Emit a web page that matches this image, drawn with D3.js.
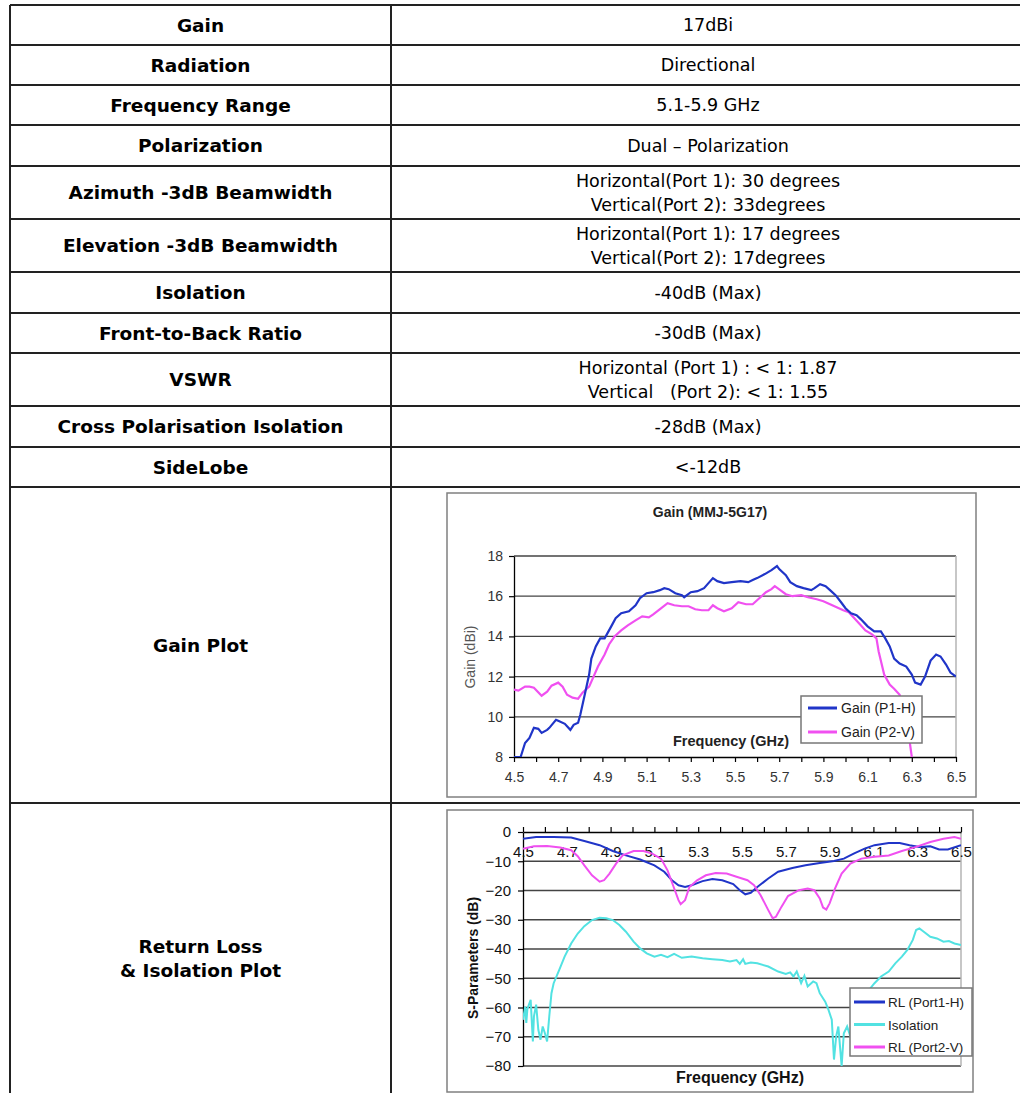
<!DOCTYPE html>
<html>
<head>
<meta charset="utf-8">
<script src="https://cdn.jsdelivr.net/npm/d3@7"></script>
<style>
  html, body { margin: 0; padding: 0; background: #fff; }
  svg { display: block; }
  text { white-space: pre; }
</style>
</head>
<body>
<svg id="sheet" width="1020" height="1093"></svg>
<script>
// ---------- specification table ----------
const specLabels = [
  ["Gain"], ["Radiation"], ["Frequency Range"], ["Polarization"],
  ["Azimuth -3dB Beamwidth"], ["Elevation -3dB Beamwidth"], ["Isolation"],
  ["Front-to-Back Ratio"], ["VSWR"], ["Cross Polarisation Isolation"], ["SideLobe"],
  ["Gain Plot"], ["Return Loss", "& Isolation Plot"]
];
const specValues = [
  ["17dBi"], ["Directional"], ["5.1-5.9 GHz"], ["Dual \u2013 Polarization"],
  ["Horizontal(Port 1): 30 degrees", "Vertical(Port 2): 33degrees"],
  ["Horizontal(Port 1): 17 degrees", "Vertical(Port 2): 17degrees"],
  ["-40dB (Max)"], ["-30dB (Max)"],
  ["Horizontal (Port 1) : < 1: 1.87", "Vertical   (Port 2): < 1: 1.55"],
  ["-28dB (Max)"], ["<-12dB"]
];

// ---------- gain plot (frequency GHz, gain dBi) ----------
const gainSeriesNames = ["Gain (P1-H)", "Gain (P2-V)"];
const gainP1H = [
  [4.50,8.0],[4.53,8.0],[4.55,8.7],[4.57,8.95],[4.59,9.45],[4.61,9.4],[4.625,9.2],[4.65,9.35],
  [4.66,9.45],[4.69,9.85],[4.70,9.8],[4.73,9.65],[4.755,9.35],[4.77,9.6],[4.79,9.7],[4.80,10.1],
  [4.82,11.1],[4.84,12.1],[4.85,12.9],[4.87,13.5],[4.89,13.9],[4.91,13.9],[4.92,14.1],[4.94,14.5],
  [4.96,14.9],[4.985,15.15],[5.02,15.25],[5.05,15.55],[5.07,15.9],[5.10,16.15],[5.13,16.2],[5.16,16.3],
  [5.18,16.4],[5.20,16.35],[5.23,16.15],[5.26,16.05],[5.27,15.95],[5.30,16.2],[5.33,16.25],[5.36,16.4],
  [5.38,16.65],[5.40,16.9],[5.42,16.75],[5.45,16.65],[5.485,16.7],[5.525,16.75],[5.56,16.7],[5.58,16.8],
  [5.60,16.9],[5.635,17.1],[5.665,17.3],[5.69,17.5],[5.70,17.35],[5.73,17.05],[5.75,16.7],[5.78,16.5],
  [5.81,16.4],[5.845,16.3],[5.86,16.4],[5.885,16.6],[5.91,16.5],[5.93,16.3],[5.955,16.05],[5.98,15.7],
  [6.00,15.4],[6.025,15.15],[6.05,15.05],[6.07,14.85],[6.10,14.5],[6.13,14.25],[6.16,14.25],[6.18,13.9],
  [6.20,13.5],[6.22,12.9],[6.245,12.65],[6.275,12.5],[6.30,12.1],[6.315,11.7],[6.34,11.6],[6.36,12.0],
  [6.385,12.8],[6.41,13.1],[6.43,13.0],[6.455,12.6],[6.475,12.2],[6.50,12.0]
];
const gainP2V = [
  [4.50,11.35],[4.52,11.3],[4.55,11.5],[4.57,11.5],[4.59,11.45],[4.625,11.05],[4.65,11.25],[4.67,11.55],
  [4.70,11.7],[4.72,11.5],[4.74,11.1],[4.765,10.95],[4.79,10.9],[4.81,11.2],[4.84,11.5],[4.86,12.0],
  [4.88,12.5],[4.91,13.1],[4.93,13.6],[4.955,14.0],[4.985,14.3],[5.015,14.55],[5.05,14.8],[5.08,15.0],
  [5.11,14.95],[5.13,15.1],[5.165,15.4],[5.195,15.65],[5.225,15.55],[5.26,15.5],[5.29,15.5],[5.32,15.35],
  [5.35,15.3],[5.38,15.3],[5.40,15.55],[5.42,15.4],[5.45,15.25],[5.485,15.4],[5.515,15.7],[5.55,15.6],
  [5.58,15.6],[5.61,15.9],[5.64,16.2],[5.665,16.35],[5.68,16.5],[5.705,16.3],[5.73,16.1],[5.76,16.0],
  [5.80,16.05],[5.83,15.95],[5.87,15.85],[5.90,15.75],[5.93,15.6],[5.96,15.45],[5.99,15.3],[6.015,15.2],
  [6.04,14.9],[6.065,14.6],[6.09,14.3],[6.12,14.1],[6.14,13.9],[6.15,13.25],[6.175,12.1],[6.20,11.6],
  [6.22,11.4],[6.245,11.1],[6.27,9.8],[6.29,8.8],[6.30,8.0],[6.31,7.5]
];
const gainTicks = [8, 10, 12, 14, 16, 18];
const freqLabels = ["4.5","4.7","4.9","5.1","5.3","5.5","5.7","5.9","6.1","6.3","6.5"];

// ---------- return loss & isolation plot (frequency GHz, dB) ----------
const sparamSeriesNames = ["RL (Port1-H)", "Isolation", "RL (Port2-V)"];
const rlPort1H = [
  [4.50,-2.3],[4.56,-1.7],[4.64,-1.7],[4.72,-1.9],[4.78,-3.1],[4.85,-4.5],[4.91,-6.5],[4.97,-8.0],
  [5.035,-9.4],[5.10,-11.4],[5.145,-13.6],[5.18,-16.5],[5.21,-18.2],[5.24,-18.8],[5.27,-18.2],[5.32,-16.8],
  [5.365,-16.1],[5.41,-16.5],[5.46,-17.8],[5.49,-19.9],[5.515,-21.3],[5.54,-20.8],[5.57,-18.8],[5.62,-15.9],
  [5.665,-13.6],[5.73,-12.3],[5.79,-11.4],[5.855,-10.6],[5.92,-9.9],[5.965,-9.1],[6.01,-7.4],[6.06,-5.7],
  [6.105,-4.5],[6.17,-3.75],[6.22,-3.75],[6.265,-4.5],[6.31,-5.1],[6.36,-4.9],[6.40,-6.0],[6.44,-6.0],
  [6.475,-5.1],[6.50,-4.5]
];
const isolation = [
  [4.50,-64.2],[4.51,-59.7],[4.515,-65.3],[4.52,-60.5],[4.535,-57.4],[4.545,-71.6],[4.55,-63.0],[4.56,-59.0],
  [4.57,-67.6],[4.58,-71.0],[4.59,-66.5],[4.60,-68.8],[4.61,-71.6],[4.62,-63.0],[4.63,-55.1],[4.64,-51.7],
  [4.665,-47.2],[4.69,-42.6],[4.72,-38.1],[4.75,-34.7],[4.78,-32.2],[4.815,-30.1],[4.85,-29.3],[4.88,-29.5],
  [4.91,-30.1],[4.94,-31.8],[4.97,-34.1],[5.005,-37.5],[5.035,-39.8],[5.065,-41.5],[5.10,-42.6],[5.13,-42.0],
  [5.16,-42.8],[5.19,-41.7],[5.225,-43.0],[5.27,-42.6],[5.32,-43.2],[5.365,-43.5],[5.41,-43.8],[5.445,-44.3],
  [5.475,-43.8],[5.49,-45.1],[5.505,-43.5],[5.515,-45.1],[5.54,-44.6],[5.57,-44.9],[5.62,-46.0],[5.665,-47.7],
  [5.70,-48.5],[5.72,-48.0],[5.735,-49.4],[5.75,-47.7],[5.77,-51.7],[5.785,-49.2],[5.80,-52.8],[5.825,-51.1],
  [5.84,-51.7],[5.855,-55.1],[5.88,-58.0],[5.895,-60.8],[5.91,-64.2],[5.92,-77.8],[5.93,-69.9],[5.94,-66.5],
  [5.95,-75.6],[5.955,-80.0],[5.965,-68.8],[5.98,-66.5],[5.995,-69.9],[6.03,-64.0],[6.06,-58.5],[6.08,-54.0],
  [6.105,-51.7],[6.135,-49.4],[6.17,-47.7],[6.20,-44.9],[6.23,-42.6],[6.255,-40.3],[6.28,-36.9],[6.295,-33.5],
  [6.31,-32.95],[6.33,-34.1],[6.36,-35.8],[6.39,-36.4],[6.42,-37.5],[6.445,-37.3],[6.47,-38.1],[6.50,-38.6]
];
const rlPort2V = [
  [4.50,-5.7],[4.55,-4.9],[4.61,-4.8],[4.67,-5.3],[4.72,-6.25],[4.75,-8.3],[4.78,-11.4],[4.815,-14.8],
  [4.85,-17.0],[4.87,-16.5],[4.895,-14.2],[4.925,-10.8],[4.955,-8.0],[5.005,-6.5],[5.05,-6.5],[5.09,-7.4],
  [5.13,-9.1],[5.16,-13.1],[5.185,-18.2],[5.21,-23.3],[5.22,-24.7],[5.24,-23.3],[5.26,-18.8],[5.295,-16.5],
  [5.335,-14.8],[5.38,-14.0],[5.43,-14.2],[5.475,-15.3],[5.525,-16.5],[5.555,-18.2],[5.585,-21.6],[5.62,-26.7],
  [5.64,-29.5],[5.655,-29.0],[5.68,-25.6],[5.71,-21.9],[5.76,-19.9],[5.80,-19.3],[5.83,-19.9],[5.855,-22.7],
  [5.87,-25.8],[5.885,-26.5],[5.90,-24.4],[5.925,-19.3],[5.955,-14.2],[5.995,-10.8],[6.045,-9.1],[6.105,-8.5],
  [6.17,-8.0],[6.23,-6.5],[6.295,-5.1],[6.36,-3.4],[6.42,-2.3],[6.47,-1.7],[6.50,-2.3]
];
const sparamTicks = [0, -10, -20, -30, -40, -50, -60, -70, -80];

// ---------- page ----------
const svg = d3.select("#sheet");
const TABLE_FONT = "'DejaVu Sans', Verdana, sans-serif";
const CHART_FONT = "'Liberation Sans', Arial, sans-serif";

// table geometry
const tableLeft = 10, tableDivider = 391, tableRight = 1020;
const rowEdges = [5, 45, 85, 125, 166, 219, 272, 313, 353, 406, 447, 487, 803, 1113];
const labelX = (tableLeft + tableDivider) / 2;
const valueX = 708;
const labelSize = 18.5, valueSize = 17.5, lineGap = 24;

const table = svg.append("g").attr("class", "spec-table");

table.selectAll("line.row")
  .data(rowEdges)
  .join("line")
  .attr("class", "row")
  .attr("x1", tableLeft).attr("x2", tableRight)
  .attr("y1", d => d).attr("y2", d => d)
  .attr("stroke", "#222").attr("stroke-width", 2);

table.selectAll("line.col")
  .data([tableLeft, tableDivider])
  .join("line")
  .attr("class", "col")
  .attr("x1", d => d).attr("x2", d => d)
  .attr("y1", rowEdges[0]).attr("y2", 1093)
  .attr("stroke", "#222").attr("stroke-width", 2);

function cellText(x, rowIndex, lines, bold) {
  const size = bold ? labelSize : valueSize;
  const cy = (rowEdges[rowIndex] + rowEdges[rowIndex + 1]) / 2;
  const top = cy - (lines.length - 1) * lineGap / 2;
  lines.forEach((s, i) => {
    table.append("text")
      .attr("x", x)
      .attr("y", top + i * lineGap + size * 0.36)
      .attr("text-anchor", "middle")
      .attr("font-family", TABLE_FONT)
      .attr("font-size", size)
      .attr("font-weight", bold ? "bold" : "normal")
      .attr("fill", "#000")
      .text(s);
  });
}
specLabels.forEach((lines, i) => cellText(labelX, i, lines, true));
specValues.forEach((lines, i) => cellText(valueX, i, lines, false));

// ---------- gain chart ----------
(function drawGainChart() {
  const g = svg.append("g").attr("class", "gain-chart");
  g.append("rect").attr("x", 447).attr("y", 493).attr("width", 529).attr("height", 304)
    .attr("fill", "#fff").attr("stroke", "#808080").attr("stroke-width", 1.5);

  const x = d3.scaleLinear().domain([4.5, 6.5]).range([514, 956]);
  const y = d3.scaleLinear().domain([8, 18]).range([757, 556]);

  g.append("clipPath").attr("id", "gainClip").append("rect")
    .attr("x", x(4.5)).attr("y", y(18)).attr("width", x(6.5) - x(4.5)).attr("height", y(8) - y(18));

  // horizontal grid
  g.append("g").selectAll("line").data(gainTicks.filter(v => v > 8)).join("line")
    .attr("x1", x(4.5)).attr("x2", x(6.5))
    .attr("y1", d => y(d)).attr("y2", d => y(d))
    .attr("stroke", "#444").attr("stroke-width", 1.3);
  g.append("line").attr("x1", x(6.5)).attr("x2", x(6.5)).attr("y1", y(18)).attr("y2", y(8))
    .attr("stroke", "#b5b5b5").attr("stroke-width", 1.5);

  const yAxis = g.append("g").attr("transform", `translate(${x(4.5)},0)`)
    .call(d3.axisLeft(y).tickValues(gainTicks).tickSize(5).tickSizeOuter(0).tickPadding(6));
  const freqMinor = d3.range(21).map(i => +(4.5 + i * 0.1).toFixed(1));
  const xAxis = g.append("g").attr("transform", `translate(0,${y(8)})`)
    .call(d3.axisBottom(x).tickValues(freqMinor).tickSize(5).tickSizeOuter(0).tickPadding(10)
      .tickFormat(d => freqLabels.includes(d.toFixed(1)) ? d.toFixed(1) : ""));
  [yAxis, xAxis].forEach(a => {
    a.select(".domain").attr("stroke", "#000").attr("stroke-width", 1.3);
    a.selectAll(".tick line").attr("stroke", "#000").attr("stroke-width", 1.2);
    a.selectAll("text").attr("font-family", CHART_FONT).attr("font-size", 14).attr("fill", "#333");
  });

  const line = d3.line().x(d => x(d[0])).y(d => y(d[1]));
  const curves = g.append("g").attr("clip-path", "url(#gainClip)");
  curves.append("path").datum(gainP2V).attr("d", line)
    .attr("fill", "none").attr("stroke", "#f050f0").attr("stroke-width", 2.2);
  curves.append("path").datum(gainP1H).attr("d", line)
    .attr("fill", "none").attr("stroke", "#2035c8").attr("stroke-width", 2.2);

  g.append("text").attr("x", 710).attr("y", 517).attr("text-anchor", "middle")
    .attr("font-family", CHART_FONT).attr("font-weight", "bold").attr("font-size", 14).attr("fill", "#222")
    .text("Gain (MMJ-5G17)");
  g.append("text").attr("transform", "translate(475,657) rotate(-90)").attr("text-anchor", "middle")
    .attr("font-family", CHART_FONT).attr("font-size", 14).attr("fill", "#555")
    .text("Gain (dBi)");
  g.append("text").attr("x", 731).attr("y", 746).attr("text-anchor", "middle")
    .attr("font-family", CHART_FONT).attr("font-weight", "bold").attr("font-size", 14.5).attr("fill", "#222")
    .text("Frequency (GHz)");

  const leg = g.append("g");
  leg.append("rect").attr("x", 801).attr("y", 696).attr("width", 121).attr("height", 47)
    .attr("fill", "#fff").attr("stroke", "#777").attr("stroke-width", 1.5);
  const legColors = ["#2035c8", "#f050f0"];
  gainSeriesNames.forEach((name, i) => {
    const ly = 708 + i * 24;
    leg.append("line").attr("x1", 808).attr("x2", 837).attr("y1", ly).attr("y2", ly)
      .attr("stroke", legColors[i]).attr("stroke-width", 3);
    leg.append("text").attr("x", 841).attr("y", ly + 5)
      .attr("font-family", CHART_FONT).attr("font-size", 14).attr("fill", "#222").text(name);
  });
})();

// ---------- return loss & isolation chart ----------
(function drawSParamChart() {
  const g = svg.append("g").attr("class", "sparam-chart");
  g.append("rect").attr("x", 447).attr("y", 810).attr("width", 526).attr("height", 282)
    .attr("fill", "#fff").attr("stroke", "#808080").attr("stroke-width", 1.5);

  const x = d3.scaleLinear().domain([4.5, 6.5]).range([523, 961]);
  const y = d3.scaleLinear().domain([-80, 0]).range([1066, 832]);

  g.append("clipPath").attr("id", "spClip").append("rect")
    .attr("x", x(4.5)).attr("y", y(0) - 2).attr("width", x(6.5) - x(4.5)).attr("height", y(-80) - y(0) + 4);

  g.append("g").selectAll("line").data(sparamTicks.filter(v => v < 0)).join("line")
    .attr("x1", x(4.5)).attr("x2", x(6.5))
    .attr("y1", d => y(d)).attr("y2", d => y(d))
    .attr("stroke", "#444").attr("stroke-width", 1.3);
  g.append("line").attr("x1", x(6.5)).attr("x2", x(6.5)).attr("y1", y(0)).attr("y2", y(-80))
    .attr("stroke", "#b5b5b5").attr("stroke-width", 1.5);

  const yAxis = g.append("g").attr("transform", `translate(${x(4.5)},0)`)
    .call(d3.axisLeft(y).tickValues(sparamTicks).tickSize(5).tickSizeOuter(0).tickPadding(7)
      .tickFormat(d3.format("d")));
  const freqMinor = d3.range(21).map(i => +(4.5 + i * 0.1).toFixed(1));
  const xAxis = g.append("g").attr("transform", `translate(0,${y(0)})`)
    .call(d3.axisBottom(x).tickValues(freqMinor).tickSizeInner(-5).tickSizeOuter(0).tickPadding(14)
      .tickFormat(d => freqLabels.includes(d.toFixed(1)) ? d.toFixed(1) : ""));
  [yAxis, xAxis].forEach(a => {
    a.select(".domain").attr("stroke", "#000").attr("stroke-width", 1.3);
    a.selectAll(".tick line").attr("stroke", "#000").attr("stroke-width", 1.2);
    a.selectAll("text").attr("font-family", CHART_FONT).attr("font-size", 15).attr("fill", "#111");
  });

  const line = d3.line().x(d => x(d[0])).y(d => y(d[1]));
  const curves = g.append("g").attr("clip-path", "url(#spClip)");
  curves.append("path").datum(isolation).attr("d", line)
    .attr("fill", "none").attr("stroke", "#52e2e2").attr("stroke-width", 2);
  curves.append("path").datum(rlPort1H).attr("d", line)
    .attr("fill", "none").attr("stroke", "#2035c8").attr("stroke-width", 2);
  curves.append("path").datum(rlPort2V).attr("d", line)
    .attr("fill", "none").attr("stroke", "#f050f0").attr("stroke-width", 2);

  g.append("text").attr("transform", "translate(478,958) rotate(-90)").attr("text-anchor", "middle")
    .attr("font-family", CHART_FONT).attr("font-weight", "bold").attr("font-size", 14).attr("fill", "#111")
    .text("S-Parameters (dB)");
  g.append("text").attr("x", 740).attr("y", 1083).attr("text-anchor", "middle")
    .attr("font-family", CHART_FONT).attr("font-weight", "bold").attr("font-size", 16).attr("fill", "#111")
    .text("Frequency (GHz)");

  const leg = g.append("g");
  leg.append("rect").attr("x", 850).attr("y", 988).attr("width", 122).attr("height", 68)
    .attr("fill", "#fff").attr("stroke", "#777").attr("stroke-width", 1.5);
  const legColors = ["#2035c8", "#52e2e2", "#f050f0"];
  sparamSeriesNames.forEach((name, i) => {
    const ly = 1002 + i * 22.5;
    leg.append("line").attr("x1", 854).attr("x2", 885).attr("y1", ly).attr("y2", ly)
      .attr("stroke", legColors[i]).attr("stroke-width", 3);
    leg.append("text").attr("x", 888).attr("y", ly + 5)
      .attr("font-family", CHART_FONT).attr("font-size", 13.5).attr("fill", "#222").text(name);
  });
})();
</script>
</body>
</html>
